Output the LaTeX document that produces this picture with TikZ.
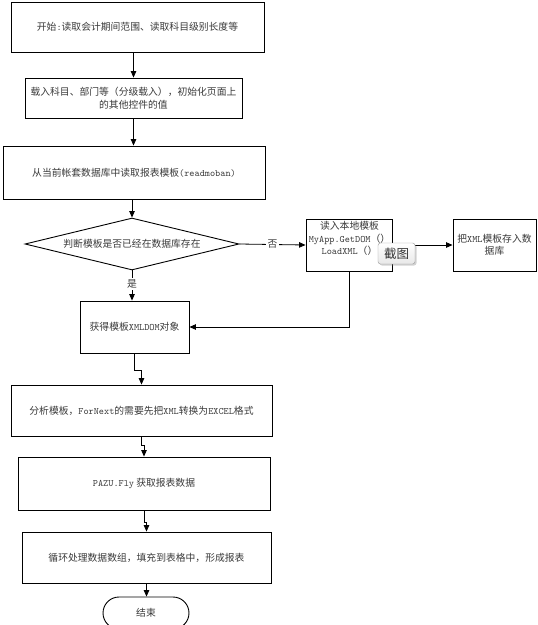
\documentclass[tikz,border=0pt]{standalone}
\usepackage{fontspec}
\setmainfont{Noto Sans CJK SC}
\newcommand\lat[1]{{\ttfamily #1}}
\usetikzlibrary{shapes.geometric,arrows.meta,shadows}
\definecolor{txt}{HTML}{3A3A3A}
\tikzset{
  txtfont/.style={text=txt, font=\fontsize{9.8}{12.5}\selectfont},
  procbox/.style={draw=black, line width=0.9pt, rectangle, align=center, inner sep=2pt, txtfont},
  decbox/.style={draw=black, line width=0.9pt, diamond, shape aspect=4, inner sep=0pt, txtfont},
  termbox/.style={draw=black, line width=0.9pt, rectangle, rounded corners=16pt, txtfont},
  conn/.style={line width=0.8pt, -{Triangle[length=6.5pt,width=5.5pt]}},
  edgelab/.style={fill=white, inner sep=1.5pt, text=txt, font=\fontsize{9.8}{12}\selectfont},
}
\begin{document}
\begin{tikzpicture}[x=1pt,y=-1pt]
\fill[white] (0,0) rectangle (538,625);
\useasboundingbox (0,0) rectangle (538,625);

\node[procbox, minimum width=253pt, minimum height=50pt] (b1) at (137.5,27) {开始\lat{:}读取会计期间范围、读取科目级别长度等};
\node[procbox, minimum width=217pt, minimum height=40pt] (b2) at (133.5,98) {载入科目、部门等（分级载入），初始化页面上\\的其他控件的值};
\node[procbox, minimum width=262pt, minimum height=53pt] (b3) at (134,172.5) {从当前帐套数据库中读取报表模板\lat{(readmoban)}};
\node[decbox, minimum width=214pt, minimum height=52pt] (d1) at (132,244) {判断模板是否已经在数据库存在};
\node[procbox, minimum width=86pt, minimum height=52pt,
  label={[align=center, txtfont, yshift=6.5pt, xshift=0.5pt]center:读入本地模板\\\lat{MyApp.GetDOM}（）\\\lat{LoadXML}（）}] (b4) at (349,245) {};
\node[procbox, minimum width=83pt, minimum height=52pt] (b5) at (494.5,245) {把\lat{XML}模板存入数\\据库};
\node[procbox, minimum width=109pt, minimum height=52pt] (b6) at (134.5,327) {获得模板\lat{XMLDOM}对象};
\node[procbox, minimum width=261pt, minimum height=51pt] (b7) at (141.5,410.5) {分析模板，\lat{ForNext}的需要先把\lat{XML}转换为\lat{EXCEL}格式};
\node[procbox, minimum width=252pt, minimum height=53pt] (b8) at (144,483.5) {\lat{PAZU.Fly} 获取报表数据};
\node[procbox, minimum width=249pt, minimum height=51pt] (b9) at (146.5,557.5) {循环处理数据数组，填充到表格中，形成报表};
\node[termbox, minimum width=86pt, minimum height=32pt] (end) at (146,613) {结束};

\draw[conn] (b1.south -| b2.north) -- (b2.north);
\draw[conn] (b2.south) -- (b3.north -| b2.south);
\draw[conn] (b3.south -| d1.north) -- (d1.north);
\draw[conn] (d1.east) -- node[edgelab]{否} (b4.west);
\draw[conn] (b4.east) -- (b5.west);
\draw[conn] (d1.south) -- node[edgelab, pos=0.45]{是} (b6.north -| d1.south);
\draw[conn] (b4.south) |- (b6.east);
\draw[conn] (b6.south) -- ++(0,17) -| (b7.north);
\draw[conn] (b7.south) -- ++(0,9) -| (b8.north);
\draw[conn] (b8.south) -- ++(0,12) -| (b9.north);
\draw[conn] (b9.south) -- (end.north -| b9.south);

\node[draw=gray!80, rounded corners=2.5pt, top color=white, bottom color=gray!18,
  drop shadow={shadow xshift=1.5pt, shadow yshift=-1.5pt, opacity=0.35},
  minimum width=37pt, minimum height=21pt, inner sep=1pt, text=black!80,
  font=\fontsize{12.5}{13}\selectfont] (shot) at (396.5,253.5) {截图};
\end{tikzpicture}
\end{document}
